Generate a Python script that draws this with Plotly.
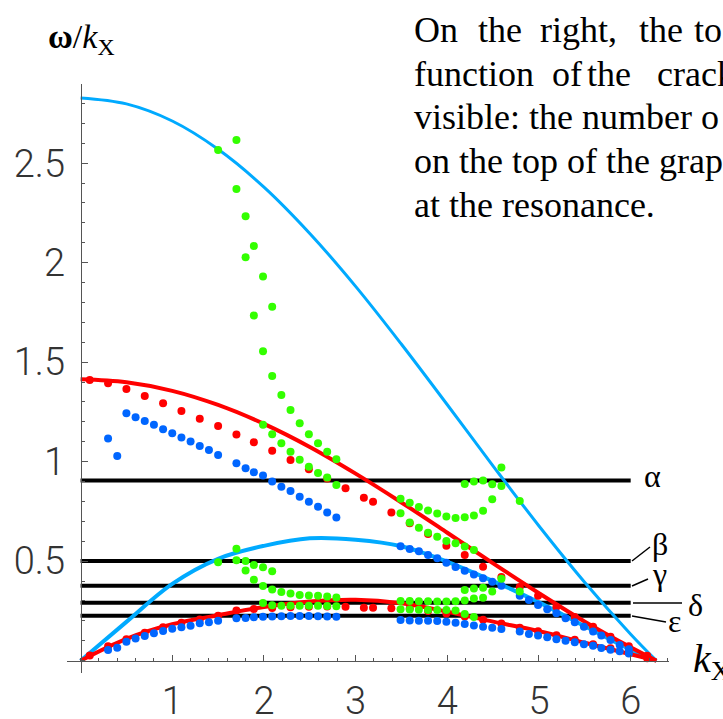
import plotly.graph_objects as go

# ---------------- data ----------------
k_curve = [0, 0.5, 1, 1.5, 2, 2.5, 3, 3.5, 4, 4.5, 5, 5.5, 6, 6.28]
blue_upper_curve = [2.828, 2.798, 2.712, 2.570, 2.380, 2.147, 1.881, 1.590, 1.286, 0.978, 0.677, 0.393, 0.133, 0.0]
red_upper_curve = [1.414, 1.399, 1.356, 1.285, 1.190, 1.074, 0.940, 0.795, 0.643, 0.489, 0.339, 0.196, 0.067, 0.0]
blue_lower_curve = [0.0, 0.195, 0.386, 0.512, 0.577, 0.615, 0.608, 0.575, 0.497, 0.400, 0.293, 0.173, 0.055, 0.0]
red_lower_curve = [0.0, 0.110, 0.183, 0.228, 0.270, 0.297, 0.306, 0.288, 0.246, 0.196, 0.148, 0.090, 0.032, 0.0]

level_names = ["α", "β", "γ", "δ", "ε"]
level_values = [0.905, 0.501, 0.376, 0.291, 0.226]
level_k_span = [0, 6]

red_upper_k = [0.10, 0.30, 0.50, 0.70, 0.90, 1.10, 1.30, 1.50, 1.70, 1.89, 2.09, 2.29, 2.49, 2.69, 2.89,
               3.09, 3.19, 3.39, 3.59, 3.79, 3.99, 4.19, 4.39, 4.59, 4.79, 4.99, 5.19, 5.39, 5.59, 5.78, 5.98, 6.18]
red_upper_v = [1.410, 1.394, 1.365, 1.330, 1.293, 1.255, 1.216, 1.179, 1.137, 1.097, 1.055, 1.008, 0.962, 0.915, 0.866,
               0.819, 0.798, 0.744, 0.690, 0.637, 0.578, 0.531, 0.472, 0.420, 0.370, 0.326, 0.271, 0.220, 0.170, 0.120, 0.072, 0.025]
red_lower_k = red_upper_k
red_lower_v = [0.026, 0.072, 0.108, 0.140, 0.168, 0.190, 0.207, 0.226, 0.252, 0.260, 0.265, 0.268, 0.271, 0.272, 0.271,
               0.266, 0.266, 0.263, 0.262, 0.250, 0.237, 0.222, 0.205, 0.187, 0.165, 0.148, 0.128, 0.105, 0.083, 0.062, 0.040, 0.012]

blue_left_k = [0.30, 0.40, 0.50, 0.60, 0.70, 0.80, 0.90, 1.00, 1.10, 1.20, 1.30, 1.40, 1.50,
               1.70, 1.80, 1.89, 1.99, 2.09, 2.19, 2.29, 2.39, 2.49, 2.59, 2.69, 2.79]
blue_left_upper_v = [1.117, 1.029, 1.243, 1.223, 1.205, 1.185, 1.163, 1.143, 1.121, 1.101, 1.079, 1.059, 1.034,
                     0.992, 0.967, 0.947, 0.931, 0.900, 0.874, 0.853, 0.824, 0.799, 0.774, 0.744, 0.719]
blue_left_lower_v = [0.054, 0.065, 0.095, 0.112, 0.124, 0.138, 0.149, 0.161, 0.168, 0.176, 0.188, 0.193, 0.201,
                     0.213, 0.215, 0.218, 0.221, 0.222, 0.223, 0.224, 0.224, 0.224, 0.223, 0.222, 0.221]
blue_right_k = [3.49, 3.59, 3.69, 3.79, 3.89, 3.99, 4.09, 4.19, 4.29, 4.39, 4.49, 4.59,
                4.79, 4.89, 4.99, 5.09, 5.19, 5.29, 5.39, 5.49, 5.59, 5.68, 5.78, 5.88, 5.98]
blue_right_upper_v = [0.575, 0.561, 0.550, 0.531, 0.515, 0.492, 0.471, 0.452, 0.433, 0.414, 0.396, 0.376,
                      0.326, 0.305, 0.280, 0.258, 0.238, 0.213, 0.193, 0.171, 0.146, 0.126, 0.104, 0.079, 0.057]
blue_right_lower_v = [0.204, 0.202, 0.201, 0.200, 0.199, 0.196, 0.190, 0.184, 0.177, 0.171, 0.166, 0.159,
                      0.146, 0.134, 0.127, 0.118, 0.108, 0.100, 0.092, 0.083, 0.075, 0.064, 0.055, 0.047, 0.036]

green_top_k = [1.50, 1.70, 1.70, 1.80, 1.89, 1.80, 1.99, 2.09, 1.89, 1.99, 2.09, 2.19, 2.29, 2.39, 2.49, 2.59, 2.69, 2.79]
green_top_v = [2.566, 2.617, 2.370, 2.233, 2.084, 2.027, 1.930, 1.779, 1.734, 1.555, 1.431, 1.335, 1.260, 1.193, 1.138, 1.092, 1.050, 1.012]
green_mid_k = [1.99, 2.09, 2.19, 2.29, 2.39, 2.49, 2.59, 2.69, 2.79]
green_mid_v = [1.186, 1.138, 1.092, 1.050, 1.010, 0.975, 0.943, 0.921, 0.883]
green_loop_k = [3.49, 3.59, 3.69, 3.79, 3.89, 3.99, 4.09, 4.19, 4.29, 4.39, 4.49, 4.59, 4.59, 4.19, 4.29, 4.39, 4.49, 4.79]
green_loop_v = [0.814, 0.794, 0.772, 0.755, 0.739, 0.724, 0.717, 0.721, 0.730, 0.753, 0.811, 0.878, 0.971, 0.888, 0.901, 0.905, 0.887, 0.803]
green_right_k = [3.49, 3.59, 3.69, 3.79, 3.89, 3.99, 4.09, 4.19, 4.29]
green_right_v = [0.741, 0.694, 0.668, 0.643, 0.623, 0.601, 0.590, 0.574, 0.556]
green_low_left_k = [1.50, 1.70, 1.70, 1.80, 1.80, 1.89, 1.89, 1.99, 1.99, 2.09, 2.09, 2.19, 2.29, 2.39, 2.49, 2.59, 2.69, 2.79]
green_low_left_v = [0.494, 0.563, 0.504, 0.501, 0.453, 0.481, 0.407, 0.469, 0.375, 0.449, 0.357, 0.345, 0.337, 0.330, 0.328, 0.326, 0.323, 0.317]
green_base_left_k = [1.99, 2.09, 2.19, 2.29, 2.39, 2.49, 2.59, 2.69, 2.79]
green_base_left_v = [0.290, 0.278, 0.276, 0.276, 0.276, 0.276, 0.276, 0.275, 0.273]
green_low_right_k = [3.49, 3.59, 3.69, 3.79, 3.89, 3.99, 4.09, 4.19,
                     3.49, 3.59, 3.69, 3.79, 3.89, 3.99, 4.09, 4.19, 4.29,
                     4.19, 4.29, 4.39, 4.49, 4.29, 4.39, 4.59, 4.79]
green_low_right_v = [0.300, 0.300, 0.299, 0.298, 0.297, 0.297, 0.298, 0.302,
                     0.258, 0.257, 0.256, 0.255, 0.255, 0.254, 0.252, 0.235, 0.220,
                     0.355, 0.363, 0.366, 0.347, 0.313, 0.316, 0.412, 0.347]

x_tick_vals = [1, 2, 3, 4, 5, 6]
x_tick_text = ["1", "2", "3", "4", "5", "6"]
y_tick_vals = [0.5, 1, 1.5, 2, 2.5]
y_tick_text = ["0.5", "1", "1.5", "2", "2.5"]

text_lines_words = [
    [("On", 412), ("the", 476), ("right,", 538), ("the", 637), ("to", 692)],
    [("function", 412), ("of", 550), ("the", 585), ("crack", 655)],
    [("visible: the number o", 412)],
    [("on the top of the grap", 412)],
    [("at the resonance.", 412)],
]
text_baselines = [41.7, 86, 129.3, 173.3, 217]

# ---------------- layout geometry ----------------
W, H = 723, 719
L, R, T, B = 67, 54, 84, 46
xr = [-0.148, 6.418]
yr = [-0.062, 2.898]
PW, PH = W - L - R, H - T - B


def pxp(px):
    """pixel column -> paper x"""
    return (px - L) / PW


def pyp(py):
    """pixel row -> paper y"""
    return (H - B - py) / PH


RED = "#FF0000"
BLUE_DOT = "#0066FF"
GREEN = "#33FF00"
BLUE_LINE = "#00AAFF"

fig = go.Figure()

for v in level_values:
    fig.add_trace(go.Scatter(x=level_k_span, y=[v, v], mode="lines",
                             line=dict(color="black", width=4), hoverinfo="skip"))

for ys, col, wd in [(blue_upper_curve, BLUE_LINE, 3), (blue_lower_curve, BLUE_LINE, 4),
                    (red_upper_curve, RED, 4), (red_lower_curve, RED, 4)]:
    fig.add_trace(go.Scatter(x=k_curve, y=ys, mode="lines",
                             line=dict(color=col, width=wd, shape="spline", smoothing=1.0)))


def dots(kk, vv, col):
    fig.add_trace(go.Scatter(x=kk, y=vv, mode="markers",
                             marker=dict(color=col, size=8, line=dict(width=0))))


dots(red_upper_k, red_upper_v, RED)
dots(red_lower_k, red_lower_v, RED)
dots(blue_left_k, blue_left_upper_v, BLUE_DOT)
dots(blue_left_k, blue_left_lower_v, BLUE_DOT)
dots(blue_right_k, blue_right_upper_v, BLUE_DOT)
dots(blue_right_k, blue_right_lower_v, BLUE_DOT)
dots(green_top_k, green_top_v, GREEN)
dots(green_mid_k, green_mid_v, GREEN)
dots(green_loop_k, green_loop_v, GREEN)
dots(green_right_k, green_right_v, GREEN)
dots(green_low_left_k, green_low_left_v, GREEN)
dots(green_base_left_k, green_base_left_v, GREEN)
dots(green_low_right_k, green_low_right_v, GREEN)

annotations = []
serif = "Liberation Serif"

# Greek level labels (pixel positions of label centres)
greek_pos = [(652, 476), (660, 544), (659, 573.5), (695, 605), (674, 620.5)]
for name, (gx, gy) in zip(level_names, greek_pos):
    annotations.append(dict(xref="paper", yref="paper", x=pxp(gx), y=pyp(gy), text=name,
                            showarrow=False, xanchor="center", yanchor="middle",
                            font=dict(family=serif, size=32, color="black")))

# leader lines
leaders = [((632, 561), (650, 547)), ((632, 586), (648, 579)),
           ((633, 603), (682, 603)), ((632, 616), (666, 622))]
shapes = []
for (x0, y0), (x1, y1) in leaders:
    shapes.append(dict(type="line", xref="paper", yref="paper", x0=pxp(x0), y0=pyp(y0),
                       x1=pxp(x1), y1=pyp(y1), line=dict(color="black", width=1.5)))

# axis labels
annotations.append(dict(xref="paper", yref="paper", x=pxp(46), y=pyp(39),
                        text="<b>ω</b>/<i>k</i><sub>X</sub>",
                        showarrow=False, xanchor="left", yanchor="middle",
                        font=dict(family=serif, size=34, color="black")))
annotations.append(dict(xref="paper", yref="paper", x=pxp(691), y=pyp(661),
                        text="<i>k</i><sub>X</sub>",
                        showarrow=False, xanchor="left", yanchor="middle",
                        font=dict(family=serif, size=40, color="black")))

# cropped page text
for words, base in zip(text_lines_words, text_baselines):
    for wtxt, wx in words:
        annotations.append(dict(xref="paper", yref="paper", x=pxp(wx), y=pyp(base - 12),
                                text=wtxt, showarrow=False,
                                xanchor="left", yanchor="middle",
                                font=dict(family=serif, size=36, color="black")))

tick_font = dict(family="Roboto", size=38, color="#333", weight=300)
axis_col = "#555555"

fig.update_layout(
    width=W, height=H,
    margin=dict(l=L, r=R, t=T, b=B, pad=0, autoexpand=False),
    paper_bgcolor="white", plot_bgcolor="white",
    showlegend=False,
    annotations=annotations,
    shapes=shapes,
    xaxis=dict(range=xr, anchor="free", position=(H - B - 660.7) / PH, automargin=False,
               showline=True, linecolor=axis_col, linewidth=1,
               showgrid=False, zeroline=False,
               tickmode="array", tickvals=x_tick_vals, ticktext=x_tick_text,
               ticks="inside", ticklen=6, tickwidth=1, tickcolor=axis_col,
               tickfont=tick_font, ticklabelstandoff=7,
               minor=dict(tickmode="linear", tick0=0, dtick=0.2, ticks="inside",
                          ticklen=3, tickwidth=1, tickcolor=axis_col, showgrid=False)),
    yaxis=dict(range=yr, anchor="free", position=(80.6 - L) / PW, automargin=False,
               showline=True, linecolor=axis_col, linewidth=1,
               showgrid=False, zeroline=False,
               tickmode="array", tickvals=y_tick_vals, ticktext=y_tick_text,
               ticks="inside", ticklen=6, tickwidth=1, tickcolor=axis_col,
               tickfont=tick_font, ticklabelstandoff=8,
               minor=dict(tickmode="linear", tick0=0, dtick=0.1, ticks="inside",
                          ticklen=3, tickwidth=1, tickcolor=axis_col, showgrid=False)),
)

fig.write_html("out.html")
